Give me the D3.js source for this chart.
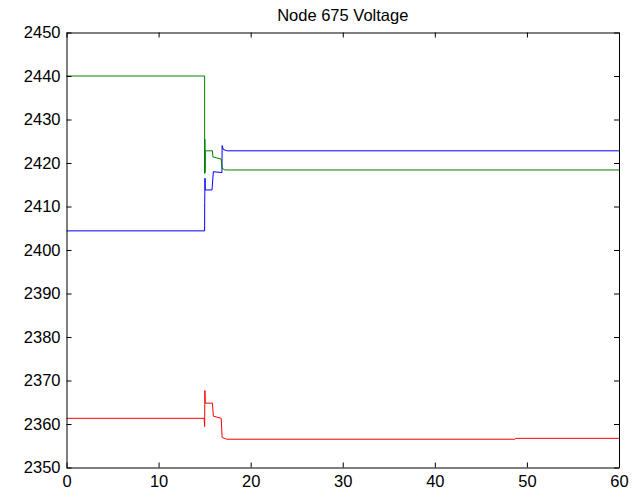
<!DOCTYPE html>
<html>
<head>
<meta charset="utf-8">
<script src="https://cdn.jsdelivr.net/npm/d3@7"></script>
<style>
  body { margin: 0; background: #fff; }
  text { font-family: Arial, "Liberation Sans", sans-serif; }
</style>
</head>
<body>
<div id="chart"></div>
<script>
// time (s) / voltage breakpoints
const phaseA = [ // green
    [0, 2440], [15.0, 2440], [15.0, 2417.6], [15.02, 2425.5], [15.04, 2417.8], [15.07, 2422.8],
    [15.85, 2422.8], [15.9, 2421.4], [16.8, 2420.9], [16.9, 2418.8], [17.2, 2418.4], [60, 2418.4]
];
const phaseB = [ // blue
    [0, 2404.4], [15.0, 2404.4], [15.01, 2410.9], [15.02, 2412.6], [15.04, 2416.5], [15.07, 2413.8],
    [15.8, 2413.8], [15.95, 2418.0], [16.88, 2417.8], [16.9, 2424.0], [17.03, 2423.1], [17.45, 2422.8], [60, 2422.8]
];
const phaseC = [ // red
    [0, 2361.3], [14.95, 2361.3], [15.0, 2359.4], [15.03, 2367.7], [15.07, 2364.8],
    [15.85, 2364.8], [15.95, 2361.8], [16.8, 2361.3], [16.9, 2356.9], [17.4, 2356.5],
    [48.7, 2356.5], [48.8, 2356.7], [60, 2356.7]
];
const xTicks = [0, 10, 20, 30, 40, 50, 60];
const yTicks = [2350, 2360, 2370, 2380, 2390, 2400, 2410, 2420, 2430, 2440, 2450];

const margin = {top: 32.5, right: 14, bottom: 23.5, left: 66.5};
const width = 633 - margin.left - margin.right;
const height = 491 - margin.top - margin.bottom;

const svg = d3.select("#chart")
    .append("svg")
    .attr("width", 633)
    .attr("height", 491)
    .append("g")
    .attr("transform", `translate(${margin.left},${margin.top})`);

const x = d3.scaleLinear().domain([0, 60]).range([0, width]);
const y = d3.scaleLinear().domain([2350, 2450]).range([height, 0]);

const line = d3.line()
    .x(d => x(d[0]))
    .y(d => y(d[1]));

[[phaseB, "#0000ff"], [phaseA, "#008000"], [phaseC, "#ff0000"]].forEach(([data, color]) => {
    svg.append("path")
        .datum(data)
        .attr("fill", "none")
        .attr("stroke", color)
        .attr("stroke-width", 1)
        .attr("d", line);
});

// axes with inward ticks on all four sides
svg.append("g")
    .attr("transform", `translate(0,${height})`)
    .call(d3.axisBottom(x).tickValues(xTicks).tickSize(-5).tickSizeOuter(0)
        .tickPadding(8).tickFormat(d3.format("d")));

svg.append("g")
    .call(d3.axisLeft(y).tickValues(yTicks).tickSize(-5).tickSizeOuter(0)
        .tickPadding(6).tickFormat(d3.format("d")));

svg.append("g")
    .call(d3.axisTop(x).tickValues(xTicks).tickSize(-5).tickSizeOuter(0).tickFormat(""));

svg.append("g")
    .attr("transform", `translate(${width},0)`)
    .call(d3.axisRight(y).tickValues(yTicks).tickSize(-5).tickSizeOuter(0).tickFormat(""));

svg.selectAll(".tick text")
    .attr("font-size", 16.5)
    .attr("font-family", "Arial, 'Liberation Sans', sans-serif")
    .attr("fill", "#000");
svg.selectAll(".domain, .tick line").attr("stroke", "#000");

svg.append("text")
    .attr("x", width / 2)
    .attr("y", -12)
    .attr("text-anchor", "middle")
    .attr("font-size", 16.5)
    .text("Node 675 Voltage");
</script>
</body>
</html>
